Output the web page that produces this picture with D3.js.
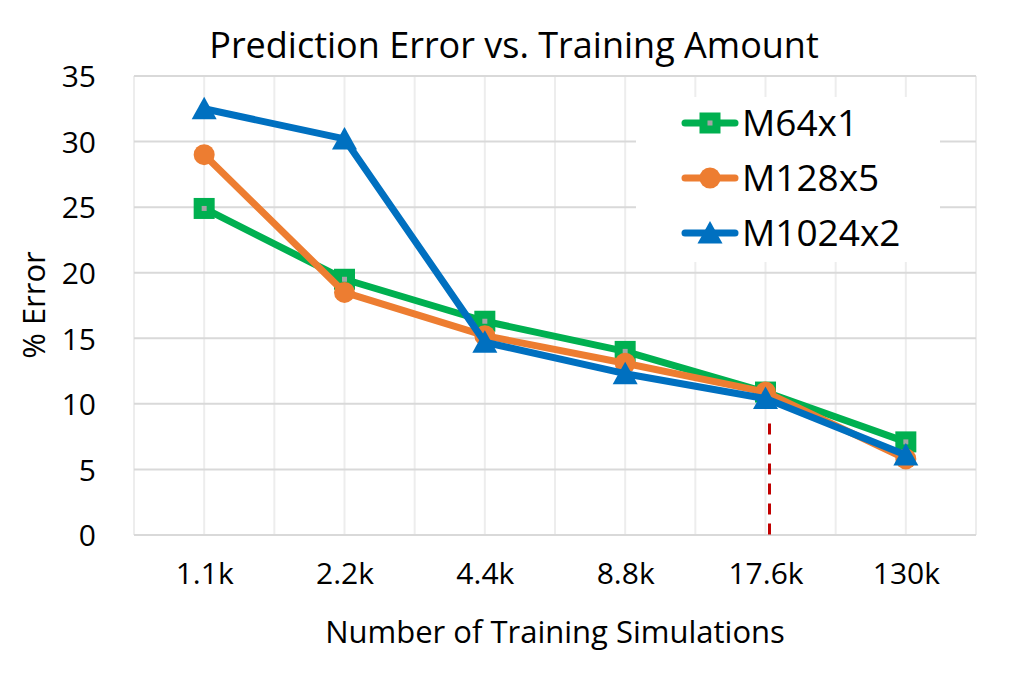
<!DOCTYPE html>
<html>
<head>
<meta charset="utf-8">
<script src="https://cdn.jsdelivr.net/npm/d3@7"></script>
<style>
  body { margin: 0; background: #fff; }
  text { font-family: "Open Sans", sans-serif; fill: #000; }
</style>
</head>
<body>
<div id="chart"></div>
<script>
// chart data
var categories = ["1.1k", "2.2k", "4.4k", "8.8k", "17.6k", "130k"];
var seriesNames = ["M64x1", "M128x5", "M1024x2"];
var m64x1 = [24.9, 19.5, 16.3, 14.0, 10.9, 7.1];
var m128x5 = [29.0, 18.5, 15.2, 13.1, 10.9, 5.8];
var m1024x2 = [32.5, 30.2, 14.7, 12.3, 10.4, 6.1];
var yTicks = [0, 5, 10, 15, 20, 25, 30, 35];
var cutoffCategory = "17.6k";

var svgWidth = 1019;
var svgHeight = 676;

var margin = { top: 76, right: 43, bottom: 141, left: 134 };
var width = svgWidth - margin.left - margin.right;
var height = svgHeight - margin.top - margin.bottom;

var svg = d3.select("#chart")
    .append("svg")
    .attr("width", svgWidth)
    .attr("height", svgHeight);

var chartGroup = svg.append("g")
    .attr("transform", `translate(${margin.left}, ${margin.top})`);

//scales
var xScale = d3.scalePoint()
    .domain(categories)
    .range([0, width])
    .padding(0.5);

var yScale = d3.scaleLinear()
    .domain([0, 35])
    .range([height, 0]);

var step = xScale.step();

//vertical gridlines, one at every half category
var vLines = d3.range(0, categories.length * 2 + 1).map(i => i * step / 2);
chartGroup.append("g")
    .selectAll("line")
    .data(vLines)
    .enter()
    .append("line")
    .attr("x1", d => d)
    .attr("x2", d => d)
    .attr("y1", 0)
    .attr("y2", height)
    .attr("stroke", "#ededed")
    .attr("stroke-width", 2);

//horizontal gridlines
chartGroup.append("g")
    .selectAll("line")
    .data(yTicks)
    .enter()
    .append("line")
    .attr("x1", 0)
    .attr("x2", width)
    .attr("y1", d => yScale(d))
    .attr("y2", d => yScale(d))
    .attr("stroke", "#d9d9d9")
    .attr("stroke-width", 2);

//y axis labels
var leftAxis = d3.axisLeft(yScale).tickValues(yTicks).tickSize(0).tickPadding(38);
var yAxis = chartGroup.append("g").call(leftAxis);
yAxis.select(".domain").remove();
yAxis.selectAll("text")
    .style("font-size", "30px")
    .attr("dy", "0.36em");

//x axis labels
var bottomAxis = d3.axisBottom(xScale).tickSize(0).tickPadding(28);
var xAxis = chartGroup.append("g")
    .attr("transform", `translate(0, ${height})`)
    .call(bottomAxis);
xAxis.select(".domain").remove();
xAxis.selectAll("text")
    .style("font-size", "30px")
    .attr("dy", "0.71em");

//red dashed cutoff line
chartGroup.append("line")
    .attr("x1", xScale(cutoffCategory) + 4)
    .attr("x2", xScale(cutoffCategory) + 4)
    .attr("y1", yScale(8.5))
    .attr("y2", yScale(-0.3))
    .attr("stroke", "#c00000")
    .attr("stroke-width", 3)
    .attr("stroke-dasharray", "11,9");

//series
var series = [
    { name: seriesNames[0], values: m64x1, color: "#00b050", shape: "square" },
    { name: seriesNames[1], values: m128x5, color: "#ed7d31", shape: "circle" },
    { name: seriesNames[2], values: m1024x2, color: "#0070c0", shape: "triangle" }
];

var line = d3.line()
    .x((d, i) => xScale(categories[i]))
    .y(d => yScale(d));

function drawMarker(g, shape, color, x, y) {
    if (shape === "square") {
        g.append("rect")
            .attr("x", x - 10.5).attr("y", y - 10.5)
            .attr("width", 21).attr("height", 21)
            .attr("fill", color);
        g.append("rect")
            .attr("x", x - 2.5).attr("y", y - 2.5)
            .attr("width", 5).attr("height", 5)
            .attr("fill", "#a5a5a5");
    } else if (shape === "circle") {
        g.append("circle")
            .attr("cx", x).attr("cy", y)
            .attr("r", 10.5)
            .attr("fill", color);
    } else {
        g.append("path")
            .attr("d", `M${x},${y - 12} L${x + 12.5},${y + 10.5} L${x - 12.5},${y + 10.5} Z`)
            .attr("fill", color);
    }
}

series.forEach(function(s) {
    var g = chartGroup.append("g");
    g.append("path")
        .datum(s.values)
        .attr("d", line)
        .attr("fill", "none")
        .attr("stroke", s.color)
        .attr("stroke-width", 7)
        .attr("stroke-linejoin", "round");
    s.values.forEach(function(v, i) {
        drawMarker(g, s.shape, s.color, xScale(categories[i]), yScale(v));
    });
});

//legend
var legend = svg.append("g")
    .attr("transform", "translate(636, 97)");

legend.append("rect")
    .attr("width", 304)
    .attr("height", 165)
    .attr("fill", "#fff");

series.forEach(function(s, i) {
    var row = legend.append("g")
        .attr("transform", `translate(0, ${26 + i * 55})`);
    row.append("line")
        .attr("x1", 49).attr("x2", 99)
        .attr("y1", 0).attr("y2", 0)
        .attr("stroke", s.color)
        .attr("stroke-width", 7)
        .attr("stroke-linecap", "round");
    drawMarker(row, s.shape, s.color, 74, 0);
    row.append("text")
        .attr("x", 106)
        .attr("y", 0)
        .attr("dy", "0.36em")
        .style("font-size", "37px")
        .text(s.name);
});

//title
svg.append("text")
    .attr("x", 514)
    .attr("y", 58)
    .attr("text-anchor", "middle")
    .style("font-size", "36px")
    .text("Prediction Error vs. Training Amount");

//x axis title
svg.append("text")
    .attr("x", 555)
    .attr("y", 643)
    .attr("text-anchor", "middle")
    .style("font-size", "31px")
    .text("Number of Training Simulations");

//y axis title
svg.append("text")
    .attr("transform", "rotate(-90)")
    .attr("x", -305)
    .attr("y", 45)
    .attr("text-anchor", "middle")
    .style("font-size", "31px")
    .text("% Error");
</script>
</body>
</html>
